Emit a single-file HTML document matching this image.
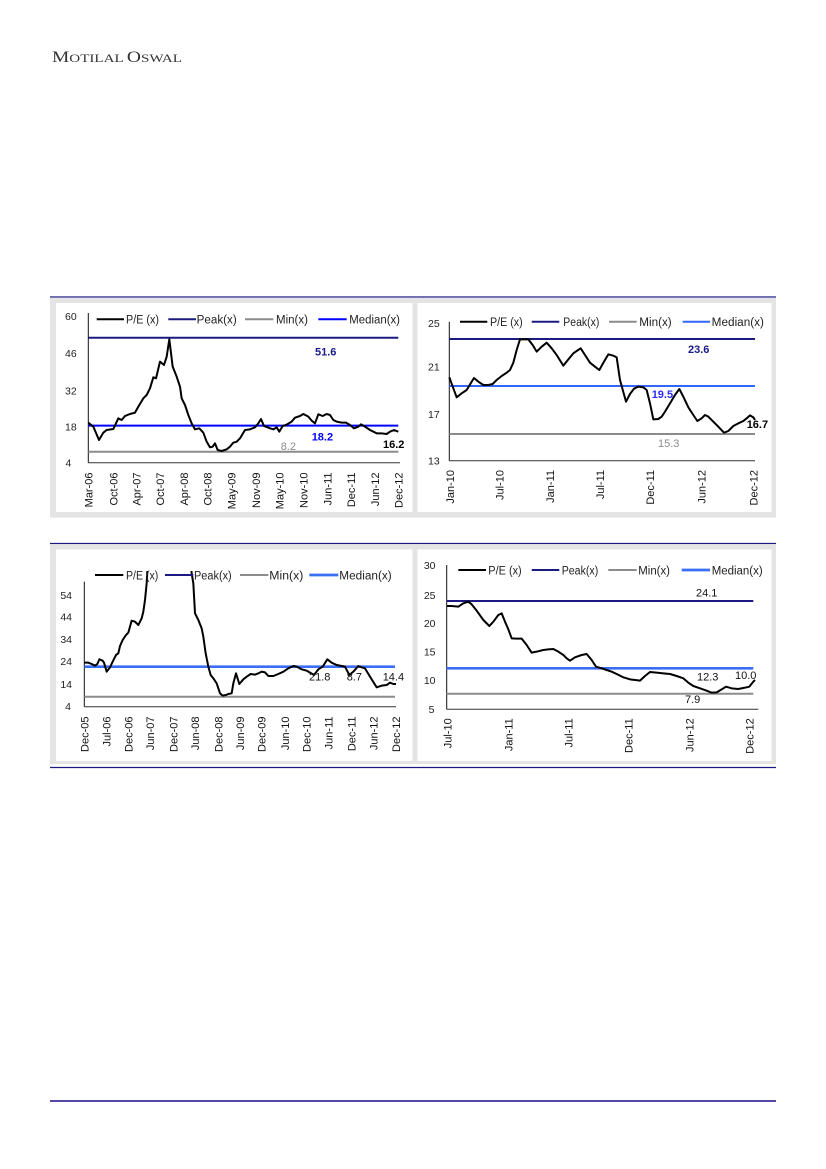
<!DOCTYPE html>
<html><head><meta charset="utf-8"><style>
html,body{margin:0;padding:0;background:#fff;}
svg{display:block;}
text{font-family:"Liberation Sans",sans-serif;}
</style></head><body>
<svg width="826" height="1169" viewBox="0 0 826 1169" xmlns="http://www.w3.org/2000/svg">
<defs>
<clipPath id="c3"><rect x="80" y="571" width="330" height="140"/></clipPath>
</defs>
<!-- header -->
<text x="52" y="62" fill="#333" style="font-family:'Liberation Serif',serif" textLength="130" lengthAdjust="spacingAndGlyphs"><tspan font-size="15.5">M</tspan><tspan font-size="12">OTILAL </tspan><tspan font-size="15.5">O</tspan><tspan font-size="12">SWAL</tspan></text>

<!-- row 1 frame -->
<line x1="50" y1="297" x2="776" y2="297" stroke="#1a1a80" stroke-width="1.3"/>
<rect x="50" y="297.7" width="726" height="220" fill="#e4e4e4"/>
<rect x="56" y="303" width="356.5" height="209" fill="#fff"/>
<rect x="417.5" y="303" width="354" height="209" fill="#fff"/>

<!-- row 2 frame -->
<line x1="50" y1="543.5" x2="776" y2="543.5" stroke="#1a1a80" stroke-width="1.3"/>
<rect x="50" y="544.2" width="726" height="220" fill="#e4e4e4"/>
<rect x="56" y="549.5" width="356.5" height="211.5" fill="#fff"/>
<rect x="417.5" y="549.5" width="354" height="211.5" fill="#fff"/>
<line x1="50" y1="767.5" x2="776" y2="767.5" stroke="#1a1a80" stroke-width="1.3"/>

<!-- footer line -->
<line x1="50" y1="1101" x2="776" y2="1101" stroke="#1a0a8a" stroke-width="1.5"/>

<!-- ============ CHART 1 ============ -->
<g font-size="10.5" fill="#222">
<text x="65" y="320">60</text><text x="65" y="357">46</text><text x="65" y="394.5">32</text><text x="65" y="430.5">18</text><text x="65.5" y="466.5">4</text>
</g>
<line x1="88.3" y1="313" x2="88.3" y2="462.7" stroke="#111" stroke-width="1"/>
<line x1="88.3" y1="462.7" x2="400" y2="462.7" stroke="#333" stroke-width="1"/>
<line x1="88.3" y1="337.8" x2="398.3" y2="337.8" stroke="#1a1a80" stroke-width="2"/>
<line x1="88.3" y1="425.6" x2="398.3" y2="425.6" stroke="#0000ff" stroke-width="2"/>
<line x1="88.3" y1="451.7" x2="398.3" y2="451.7" stroke="#8c8c8c" stroke-width="2"/>
<g transform="translate(40,290) scale(0.33333)">
<path fill="none" stroke="#000" stroke-width="2" vector-effect="non-scaling-stroke" stroke-linejoin="round" d="M145,398 L160,410 177,450 190,428 200,420 220,417 228,400 235,385 245,390 255,378 270,372 285,368 295,350 310,325 320,315 330,295 340,262 348,265 360,215 372,225 380,200 388,148 398,230 410,260 420,290 425,325 435,345 445,375 455,400 465,418 478,415 490,428 500,455 510,472 518,470 525,460 533,480 545,483 560,478 570,470 580,458 590,455 600,445 615,420 630,418 645,412 655,400 663,387 672,408 690,415 700,418 710,412 718,425 728,408 740,404 755,395 765,383 780,378 790,372 805,380 815,392 825,400 835,373 848,378 860,372 870,375 880,390 890,395 905,398 918,398 930,405 942,415 955,410 963,403 975,410 990,420 1010,430 1025,430 1040,432 1050,425 1062,420 1075,425"/>
</g>
<!-- legend 1 -->
<line x1="96.7" y1="319.3" x2="124" y2="319.3" stroke="#000" stroke-width="2"/>
<text x="126" y="323.5" font-size="11.5" fill="#222" textLength="33" lengthAdjust="spacingAndGlyphs">P/E (x)</text>
<line x1="168.3" y1="319.3" x2="196" y2="319.3" stroke="#1a1a80" stroke-width="2"/>
<text x="196.7" y="323.5" font-size="11.5" fill="#222" textLength="40" lengthAdjust="spacingAndGlyphs">Peak(x)</text>
<line x1="245" y1="319.3" x2="273.3" y2="319.3" stroke="#8c8c8c" stroke-width="2"/>
<text x="276" y="323.5" font-size="11.5" fill="#222" textLength="32" lengthAdjust="spacingAndGlyphs">Min(x)</text>
<line x1="318.3" y1="319.3" x2="346.7" y2="319.3" stroke="#0000ff" stroke-width="2"/>
<text x="349.3" y="323.5" font-size="11.5" fill="#222" textLength="50.7" lengthAdjust="spacingAndGlyphs">Median(x)</text>
<!-- data labels 1 -->
<text x="315" y="355.5" font-size="11" font-weight="bold" fill="#1a1a8c">51.6</text>
<text x="311.7" y="440.5" font-size="11" font-weight="bold" fill="#0000ff">18.2</text>
<text x="280.7" y="450" font-size="11" fill="#8c8c8c">8.2</text>
<text x="383" y="448" font-size="11" font-weight="bold" fill="#000">16.2</text>
<!-- x labels 1 -->
<g font-size="11" fill="#111" text-anchor="end">
<text transform="translate(92.3,472.5) rotate(-90)">Mar-06</text>
<text transform="translate(117.3,472.5) rotate(-90)">Oct-06</text>
<text transform="translate(140.7,472.5) rotate(-90)">Apr-07</text>
<text transform="translate(164,472.5) rotate(-90)">Oct-07</text>
<text transform="translate(188,472.5) rotate(-90)">Apr-08</text>
<text transform="translate(211.7,472.5) rotate(-90)">Oct-08</text>
<text transform="translate(235.7,472.5) rotate(-90)">May-09</text>
<text transform="translate(260,472.5) rotate(-90)">Nov-09</text>
<text transform="translate(283.3,472.5) rotate(-90)">May-10</text>
<text transform="translate(307.3,472.5) rotate(-90)">Nov-10</text>
<text transform="translate(331.3,472.5) rotate(-90)">Jun-11</text>
<text transform="translate(355,472.5) rotate(-90)">Dec-11</text>
<text transform="translate(379,472.5) rotate(-90)">Jun-12</text>
<text transform="translate(402.3,472.5) rotate(-90)">Dec-12</text>
</g>

<!-- ============ CHART 2 ============ -->
<g font-size="10.5" fill="#222">
<text x="428" y="327">25</text><text x="428" y="370.5">21</text><text x="428" y="418">17</text><text x="428" y="464.5">13</text>
</g>
<line x1="449.3" y1="321.7" x2="449.3" y2="460.7" stroke="#111" stroke-width="1"/>
<line x1="449.3" y1="460.7" x2="755" y2="460.7" stroke="#333" stroke-width="1"/>
<line x1="449.3" y1="339" x2="755" y2="339" stroke="#1a1a80" stroke-width="2"/>
<line x1="449.3" y1="386" x2="755" y2="386" stroke="#3366ff" stroke-width="2"/>
<line x1="449.3" y1="434" x2="755" y2="434" stroke="#8c8c8c" stroke-width="2"/>
<g transform="translate(410,290) scale(0.33333)">
<path fill="none" stroke="#000" stroke-width="2" vector-effect="non-scaling-stroke" stroke-linejoin="round" d="M118,262 L130,295 140,322 155,310 170,300 182,280 192,264 205,275 220,285 235,285 248,282 260,270 275,258 290,248 300,240 310,218 320,180 330,148 345,148 355,148 368,165 380,185 395,170 410,158 425,175 440,195 460,227 475,208 490,190 500,183 512,175 525,195 540,218 555,230 568,240 582,215 595,193 610,197 620,202 630,270 648,335 660,312 672,296 685,290 700,292 710,300 720,340 730,388 745,387 755,380 765,365 780,340 795,315 808,297 820,320 835,352 850,375 862,393 875,385 885,375 895,380 910,395 925,410 942,428 955,423 970,408 985,400 1000,393 1010,385 1020,376 1030,382 1035,390"/>
</g>
<line x1="460" y1="321.7" x2="487.3" y2="321.7" stroke="#000" stroke-width="2"/>
<text x="490" y="326" font-size="11.5" fill="#222" textLength="32.7" lengthAdjust="spacingAndGlyphs">P/E (x)</text>
<line x1="531.7" y1="321.7" x2="559.3" y2="321.7" stroke="#1a1a80" stroke-width="2"/>
<text x="563.3" y="326" font-size="11.5" fill="#222" textLength="36" lengthAdjust="spacingAndGlyphs">Peak(x)</text>
<line x1="609" y1="321.7" x2="636.7" y2="321.7" stroke="#8c8c8c" stroke-width="2"/>
<text x="639.3" y="326" font-size="11.5" fill="#222" textLength="32.4" lengthAdjust="spacingAndGlyphs">Min(x)</text>
<line x1="682.7" y1="321.7" x2="710" y2="321.7" stroke="#3366ff" stroke-width="2"/>
<text x="711.7" y="326" font-size="11.5" fill="#222" textLength="52.3" lengthAdjust="spacingAndGlyphs">Median(x)</text>
<text x="688" y="353" font-size="11" font-weight="bold" fill="#1a1a8c">23.6</text>
<text x="651.7" y="398" font-size="11" font-weight="bold" fill="#2b2bff">19.5</text>
<text x="658" y="447" font-size="11" fill="#8c8c8c">15.3</text>
<text x="746.7" y="428" font-size="11" font-weight="bold" fill="#000">16.7</text>
<g font-size="11" fill="#111" text-anchor="end">
<text transform="translate(454,470) rotate(-90)">Jan-10</text>
<text transform="translate(503.3,470) rotate(-90)">Jul-10</text>
<text transform="translate(554,470) rotate(-90)">Jan-11</text>
<text transform="translate(604,470) rotate(-90)">Jul-11</text>
<text transform="translate(654,470) rotate(-90)">Dec-11</text>
<text transform="translate(705.7,470) rotate(-90)">Jun-12</text>
<text transform="translate(757.3,470) rotate(-90)">Dec-12</text>
</g>

<!-- ============ CHART 3 ============ -->
<g font-size="10.5" fill="#222" text-anchor="end">
<text x="72" y="599">54</text><text x="72" y="620.5">44</text><text x="72" y="643">34</text><text x="72" y="665">24</text><text x="72" y="688">14</text><text x="71" y="710">4</text>
</g>
<line x1="84.3" y1="581.7" x2="84.3" y2="706.7" stroke="#111" stroke-width="1"/>
<line x1="84.3" y1="706.7" x2="396" y2="706.7" stroke="#333" stroke-width="1"/>
<line x1="84.3" y1="666.7" x2="395" y2="666.7" stroke="#3a6ef5" stroke-width="2.7"/>
<line x1="84.3" y1="696.7" x2="395" y2="696.7" stroke="#8c8c8c" stroke-width="2"/>
<g clip-path="url(#c3)">
<g transform="translate(40,540) scale(0.33333)">
<path fill="none" stroke="#000" stroke-width="2" vector-effect="non-scaling-stroke" stroke-linejoin="round" d="M133,368 L145,368 155,372 165,377 172,372 178,358 188,362 192,368 200,395 210,382 218,365 228,345 235,340 240,318 248,300 258,285 265,278 275,242 285,245 295,255 305,235 310,215 315,180 320,130 324,60 M452,60 L455,100 460,130 465,220 475,240 485,265 490,290 497,340 505,380 512,405 520,415 530,430 540,460 548,467 558,465 565,462 575,460 580,430 588,400 598,432 610,418 620,410 632,402 645,404 655,400 665,395 675,397 685,408 700,408 715,402 730,395 745,385 760,378 770,380 785,388 800,392 810,398 822,405 835,388 848,380 862,358 875,368 890,375 905,378 915,380 928,405 940,395 955,378 965,382 975,385 990,410 1010,442 1025,437 1040,435 1050,428 1060,432 1068,432"/>
</g>
</g>
<line x1="95" y1="575" x2="123.3" y2="575" stroke="#000" stroke-width="2"/>
<text x="126" y="579.3" font-size="11.5" fill="#222" textLength="32.3" lengthAdjust="spacingAndGlyphs">P/E (x)</text>
<line x1="165" y1="575" x2="193.3" y2="575" stroke="#1a1a80" stroke-width="2"/>
<text x="194" y="579.3" font-size="11.5" fill="#222" textLength="37.7" lengthAdjust="spacingAndGlyphs">Peak(x)</text>
<line x1="240" y1="575" x2="268.3" y2="575" stroke="#8c8c8c" stroke-width="2"/>
<text x="269.3" y="579.3" font-size="11.5" fill="#222" textLength="34" lengthAdjust="spacingAndGlyphs">Min(x)</text>
<line x1="309.3" y1="575" x2="338.3" y2="575" stroke="#3a6ef5" stroke-width="2.7"/>
<text x="339.3" y="579.3" font-size="11.5" fill="#222" textLength="52.4" lengthAdjust="spacingAndGlyphs">Median(x)</text>
<g font-size="11" fill="#111">
<text x="309" y="680.5">21.8</text>
<text x="346.7" y="680.5">8.7</text>
<text x="382.7" y="680.5">14.4</text>
</g>
<g font-size="11" fill="#111" text-anchor="end">
<text transform="translate(88.3,716.5) rotate(-90)">Dec-05</text>
<text transform="translate(110.7,716.5) rotate(-90)">Jul-06</text>
<text transform="translate(132.3,716.5) rotate(-90)">Dec-06</text>
<text transform="translate(154,716.5) rotate(-90)">Jun-07</text>
<text transform="translate(177.3,716.5) rotate(-90)">Dec-07</text>
<text transform="translate(199,716.5) rotate(-90)">Jun-08</text>
<text transform="translate(222.3,716.5) rotate(-90)">Dec-08</text>
<text transform="translate(244,716.5) rotate(-90)">Jun-09</text>
<text transform="translate(265.7,716.5) rotate(-90)">Dec-09</text>
<text transform="translate(289,716.5) rotate(-90)">Jun-10</text>
<text transform="translate(310.7,716.5) rotate(-90)">Dec-10</text>
<text transform="translate(332.3,716.5) rotate(-90)">Jun-11</text>
<text transform="translate(355.7,716.5) rotate(-90)">Dec-11</text>
<text transform="translate(377.3,716.5) rotate(-90)">Jun-12</text>
<text transform="translate(400,716.5) rotate(-90)">Dec-12</text>
</g>

<!-- ============ CHART 4 ============ -->
<g font-size="10.5" fill="#222" text-anchor="end">
<text x="435.5" y="569">30</text><text x="435.5" y="599">25</text><text x="435.5" y="627">20</text><text x="435.5" y="655.5">15</text><text x="435.5" y="684">10</text><text x="434.5" y="713">5</text>
</g>
<line x1="446.7" y1="565" x2="446.7" y2="709.3" stroke="#111" stroke-width="1"/>
<line x1="446.7" y1="709.3" x2="758.3" y2="709.3" stroke="#333" stroke-width="1"/>
<line x1="446.7" y1="601" x2="753.3" y2="601" stroke="#1a1a80" stroke-width="2"/>
<line x1="446.7" y1="668.3" x2="753.3" y2="668.3" stroke="#3a6ef5" stroke-width="2.7"/>
<line x1="446.7" y1="693.7" x2="753.3" y2="693.7" stroke="#8c8c8c" stroke-width="2"/>
<g transform="translate(410,540) scale(0.33333)">
<path fill="none" stroke="#000" stroke-width="2" vector-effect="non-scaling-stroke" stroke-linejoin="round" d="M110,198 L125,198 145,200 160,190 175,185 185,193 200,212 220,240 238,258 250,245 265,225 275,220 285,245 295,268 305,295 320,296 335,296 350,315 365,338 380,335 400,330 415,328 430,327 445,335 460,345 470,355 480,362 495,352 515,345 530,342 545,360 558,380 575,385 590,390 605,395 620,402 640,412 660,418 675,420 690,422 705,408 720,396 740,398 760,400 780,402 800,408 820,415 835,428 850,438 870,445 890,452 905,458 920,457 935,448 948,440 965,445 985,447 1005,443 1018,440 1030,425 1035,420"/>
</g>
<line x1="458.3" y1="570" x2="486" y2="570" stroke="#000" stroke-width="2"/>
<text x="488.3" y="574.3" font-size="11.5" fill="#222" textLength="33.4" lengthAdjust="spacingAndGlyphs">P/E (x)</text>
<line x1="531.7" y1="570" x2="559.3" y2="570" stroke="#1a1a80" stroke-width="2"/>
<text x="561.7" y="574.3" font-size="11.5" fill="#222" textLength="36.6" lengthAdjust="spacingAndGlyphs">Peak(x)</text>
<line x1="608.3" y1="570" x2="636.7" y2="570" stroke="#8c8c8c" stroke-width="2"/>
<text x="638.3" y="574.3" font-size="11.5" fill="#222" textLength="31.7" lengthAdjust="spacingAndGlyphs">Min(x)</text>
<line x1="681.7" y1="570" x2="710" y2="570" stroke="#3a6ef5" stroke-width="2.7"/>
<text x="711.7" y="574.3" font-size="11.5" fill="#222" textLength="51" lengthAdjust="spacingAndGlyphs">Median(x)</text>
<g font-size="11" fill="#111">
<text x="696" y="596.5">24.1</text>
<text x="697" y="680.5">12.3</text>
<text x="735" y="679">10.0</text>
<text x="685" y="703">7.9</text>
</g>
<g font-size="11" fill="#111" text-anchor="end">
<text transform="translate(451.3,718.3) rotate(-90)">Jul-10</text>
<text transform="translate(512.3,718.3) rotate(-90)">Jan-11</text>
<text transform="translate(572.3,718.3) rotate(-90)">Jul-11</text>
<text transform="translate(632.3,718.3) rotate(-90)">Dec-11</text>
<text transform="translate(693.3,718.3) rotate(-90)">Jun-12</text>
<text transform="translate(753.3,718.3) rotate(-90)">Dec-12</text>
</g>
</svg>
</body></html>
